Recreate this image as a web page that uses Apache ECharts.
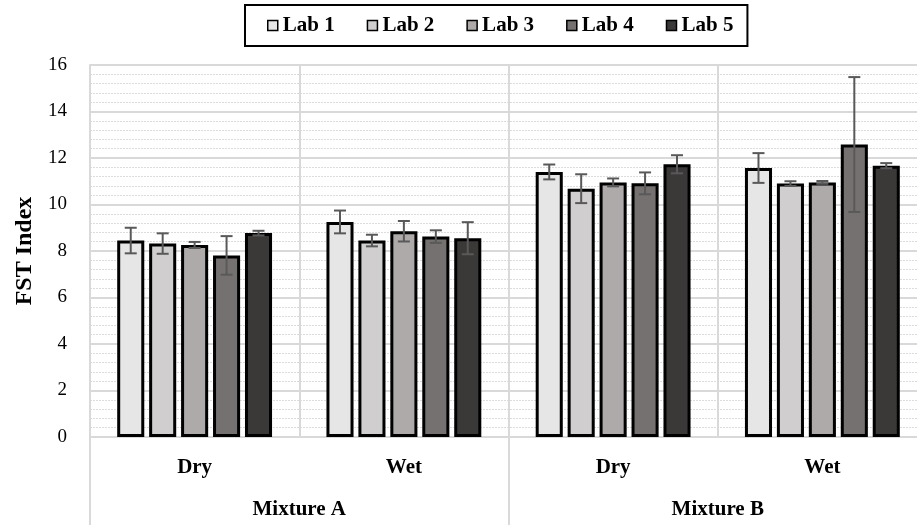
<!DOCTYPE html>
<html>
<head>
<meta charset="utf-8">
<script src="https://cdn.jsdelivr.net/npm/echarts@6/dist/echarts.min.js"></script>
<style>
html,body{margin:0;padding:0;background:#fff;}
#chart{width:917px;height:525px;}
</style>
</head>
<body>
<div id="chart"></div>
<script>
// data
const conditions = ['Dry', 'Wet', 'Dry', 'Wet']
const mixtures = ['Mixture A', 'Mixture B']
const labs = ['Lab 1', 'Lab 2', 'Lab 3', 'Lab 4', 'Lab 5']
const lab1 = [8.45, 9.25, 11.40, 11.57]
const lab2 = [8.32, 8.45, 10.68, 10.90]
const lab3 = [8.26, 8.85, 10.95, 10.95]
const lab4 = [7.81, 8.62, 10.91, 12.58]
const lab5 = [8.77, 8.55, 11.73, 11.67]
const err1 = [0.55, 0.49, 0.32, 0.64]
const err2 = [0.44, 0.25, 0.62, 0.10]
const err3 = [0.13, 0.44, 0.17, 0.06]
const err4 = [0.83, 0.27, 0.47, 2.90]
const err5 = [0.10, 0.69, 0.39, 0.11]
const yTicks = [0, 2, 4, 6, 8, 10, 12, 14, 16]

const values = [lab1, lab2, lab3, lab4, lab5]
const errors = [err1, err2, err3, err4, err5]
const colors = ['#E7E6E6', '#D0CECE', '#AEAAAA', '#767171', '#3B3838']
const serif = '"Liberation Serif", "Times New Roman", serif'
const catGap = 0.26
const barGap = 0.18

let errData = []
values.forEach((vals, i) => {
    vals.forEach((v, c) => {
        errData.push([c, i, v - errors[i][c], v + errors[i][c]])
    })
})

const chart = echarts.init(document.getElementById('chart'))

let series = labs.map((name, i) => ({
    name: name,
    type: 'bar',
    xAxisIndex: 0,
    data: values[i],
    barGap: (barGap * 100) + '%',
    barCategoryGap: (catGap * 100) + '%',
    itemStyle: {
        color: colors[i],
        borderColor: '#000',
        borderWidth: 3
    }
}))

// error bars, placed on the same slots as the bars
series.push({
    type: 'custom',
    xAxisIndex: 0,
    z: 10,
    silent: true,
    data: errData,
    renderItem: function (params, api) {
        let c = api.value(0)
        let lab = api.value(1)
        let band = api.size([1, 0])[0]
        let groupW = band * (1 - catGap)
        let n = labs.length
        let bw = groupW / (n + (n - 1) * barGap)
        let offset = -groupW / 2 + lab * bw * (1 + barGap) + bw / 2
        let lo = api.coord([c, api.value(2)])
        let hi = api.coord([c, api.value(3)])
        let x = lo[0] + offset
        let cap = 6
        let style = { stroke: '#595959', lineWidth: 2 }
        return {
            type: 'group',
            children: [
                { type: 'line', shape: { x1: x, y1: lo[1], x2: x, y2: hi[1] }, style: style },
                { type: 'line', shape: { x1: x - cap, y1: lo[1], x2: x + cap, y2: lo[1] }, style: style },
                { type: 'line', shape: { x1: x - cap, y1: hi[1], x2: x + cap, y2: hi[1] }, style: style }
            ]
        }
    }
})

const option = {
    animation: false,
    backgroundColor: '#fff',
    legend: {
        data: labs,
        left: 245,
        top: 5,
        padding: [10, 14, 10, 22],
        borderColor: '#000',
        borderWidth: 2,
        itemWidth: 10,
        itemHeight: 10,
        itemGap: 32,
        icon: 'rect',
        itemStyle: { borderColor: '#000', borderWidth: 1.5 },
        textStyle: { fontFamily: serif, fontWeight: 'bold', fontSize: 21, color: '#000' }
    },
    grid: {
        left: 90,
        top: 65,
        width: 837,
        height: 372,
        containLabel: false,
        outerBoundsMode: 'none'
    },
    xAxis: [{
        type: 'category',
        data: conditions,
        position: 'bottom',
        axisLine: { show: true, lineStyle: { color: '#d9d9d9', width: 2 } },
        axisTick: { show: false },
        splitLine: { show: true, lineStyle: { color: '#d9d9d9', width: 2 } },
        axisLabel: { margin: 20, fontFamily: serif, fontWeight: 'bold', fontSize: 21, color: '#000' }
    }, {
        type: 'category',
        data: mixtures,
        position: 'bottom',
        axisLine: { show: false },
        axisTick: { show: true, length: 90, lineStyle: { color: '#d9d9d9', width: 2 } },
        axisLabel: { margin: 62, fontFamily: serif, fontWeight: 'bold', fontSize: 21, color: '#000' }
    }],
    yAxis: {
        type: 'value',
        min: yTicks[0],
        max: yTicks[yTicks.length - 1],
        interval: 2,
        name: 'FST Index',
        nameLocation: 'middle',
        nameGap: 48,
        nameTextStyle: { fontFamily: serif, fontWeight: 'bold', fontSize: 24, color: '#000' },
        axisLine: { show: true, lineStyle: { color: '#d9d9d9', width: 2 } },
        axisTick: { show: false },
        axisLabel: { margin: 23, fontFamily: serif, fontSize: 19, color: '#000' },
        splitLine: { show: true, lineStyle: { color: '#d9d9d9', width: 2 } },
        minorTick: { show: false, splitNumber: 5 },
        minorSplitLine: { show: true, lineStyle: { color: '#dcdcdc', width: 1, type: [2, 1] } }
    },
    series: series
}

chart.setOption(option)
</script>
</body>
</html>
